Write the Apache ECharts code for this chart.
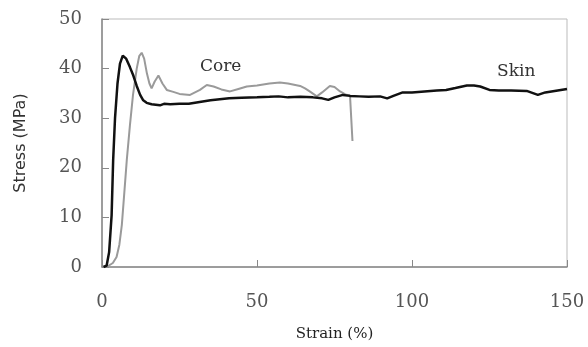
<!DOCTYPE html>
<html>
<head>
<meta charset="utf-8">
<script src="https://cdn.jsdelivr.net/npm/echarts@6/dist/echarts.min.js"></script>
<style>
  html, body { margin: 0; padding: 0; background: #fff; }
  #canvas { width: 588px; height: 347px; }
</style>
</head>
<body>
<div id="canvas"></div>
<script>
// strain (%) / stress (MPa)
var skinStrain = [0.5, 1.5, 2.3, 3.1, 3.6, 4.2, 5, 5.8, 6.7, 7.8, 9, 10.1, 11.2, 12.3, 13.3, 14.4, 16, 18.7, 20, 22, 25, 28, 31, 35, 38, 41, 45, 50, 54, 57, 60, 64, 68, 71, 73, 75, 77.7, 80, 83, 86, 89.7, 92, 94, 97, 100, 104, 108, 111, 114, 117.7, 120, 122, 125, 128, 132, 137, 140.6, 143, 147, 150];
var skinStress = [0, 0.3, 3, 10.4, 21.6, 30, 37, 41, 42.6, 42, 40.3, 38.6, 36.5, 34.7, 33.6, 33.1, 32.8, 32.6, 32.9, 32.8, 32.9, 32.9, 33.2, 33.6, 33.8, 34, 34.1, 34.2, 34.3, 34.4, 34.2, 34.3, 34.2, 34, 33.7, 34.2, 34.7, 34.5, 34.4, 34.3, 34.4, 34, 34.5, 35.2, 35.2, 35.4, 35.6, 35.7, 36.1, 36.6, 36.6, 36.4, 35.7, 35.6, 35.6, 35.5, 34.7, 35.2, 35.6, 35.9];

var coreStrain = [0.5, 2, 3.5, 4.7, 5.6, 6.4, 7.2, 8, 9, 10, 11.2, 12, 12.8, 13.6, 14.5, 15.3, 16, 17, 18.2, 19.5, 20.9, 23, 25, 28.4, 31.6, 33.8, 36, 38.5, 41.3, 44, 46.7, 50, 54, 57.4, 60, 63.9, 65.5, 67, 69.3, 71, 73.5, 75, 76.8, 78.5, 80, 80.6, 80.8];
var coreStress = [0, 0.2, 0.8, 2, 4.5, 8.5, 15, 21.6, 28.5, 34.7, 40, 42.5, 43.2, 42, 39, 37, 36, 37.4, 38.6, 37, 35.7, 35.3, 34.9, 34.7, 35.7, 36.7, 36.4, 35.8, 35.4, 35.9, 36.4, 36.6, 37, 37.2, 37, 36.5, 36, 35.4, 34.4, 35.2, 36.5, 36.3, 35.4, 34.8, 34.6, 34.3, 25.4];

function pairs(xs, ys) {
    return xs.map(function (x, i) { return [x, ys[i]]; });
}

var serif = 'DejaVu Serif';
var myChart = echarts.init(document.getElementById('canvas'));
var option = {
    animation: false,
    grid: {
        left: 102,
        right: 21,
        top: 19,
        bottom: 74,
        show: true,
        borderColor: '#bbb',
        borderWidth: 1
    },
    xAxis: {
        type: 'value',
        min: 0,
        max: 150,
        interval: 50,
        name: 'Strain (%)',
        nameLocation: 'middle',
        nameGap: 60,
        nameTextStyle: { fontFamily: serif, fontSize: 15, color: '#222' },
        axisLine: { lineStyle: { color: '#888', width: 1.5 } },
        axisTick: { inside: true, length: 7, lineStyle: { color: '#888' } },
        axisLabel: { margin: 26, fontFamily: serif, fontSize: 18, color: '#555' },
        splitLine: { show: false }
    },
    yAxis: {
        type: 'value',
        min: 0,
        max: 50,
        interval: 10,
        name: 'Stress (MPa)',
        nameLocation: 'middle',
        nameGap: 73,
        nameTextStyle: { fontFamily: 'DejaVu Sans', fontSize: 16, color: '#333' },
        axisLine: { show: true, lineStyle: { color: '#888', width: 1.5 } },
        axisTick: { show: true, inside: true, length: 7, lineStyle: { color: '#888' } },
        axisLabel: { margin: 20, fontFamily: serif, fontSize: 18, color: '#555' },
        splitLine: { show: false }
    },
    series: [{
        name: 'Core',
        type: 'line',
        showSymbol: false,
        lineStyle: { color: '#9a9a9a', width: 2 },
        data: pairs(coreStrain, coreStress)
    }, {
        name: 'Skin',
        type: 'line',
        showSymbol: false,
        lineStyle: { color: '#111', width: 2.5 },
        data: pairs(skinStrain, skinStress)
    }],
    graphic: [{
        type: 'text', left: 200, top: 58,
        style: { text: 'Core', font: '17px "DejaVu Serif"', fill: '#333' }
    }, {
        type: 'text', left: 497, top: 63,
        style: { text: 'Skin', font: '17px "DejaVu Serif"', fill: '#333' }
    }]
};
myChart.setOption(option);
</script>
</body>
</html>
